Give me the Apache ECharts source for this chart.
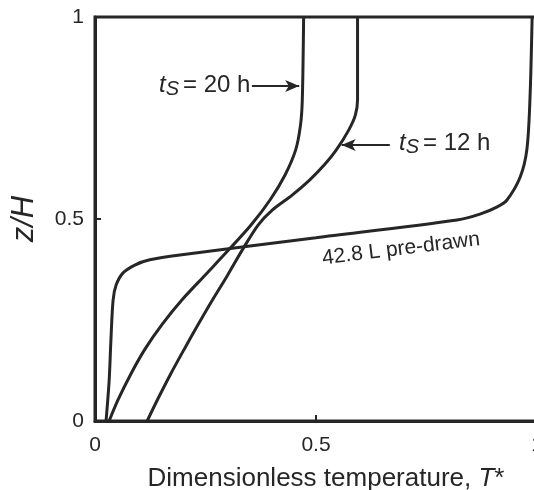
<!doctype html>
<html lang="en">
<head>
<meta charset="UTF-8">
<title>Dimensionless temperature profiles</title>
<script src="https://cdn.jsdelivr.net/npm/echarts@6/dist/echarts.min.js"></script>
<style>
  html, body { margin: 0; padding: 0; background: #fff; }
  #main { width: 534px; height: 490px; }
</style>
</head>
<body>
<div id="main"></div>
<script>
// tick labels
var xTicks = [0, 0.5, 1];
var yTicks = [0, 0.5, 1];

// 42.8 L pre-drawn profile: T* against z/H
var zPre = [0, 0.1, 0.2, 0.3, 0.337, 0.366, 0.386, 0.399, 0.411, 0.4535, 0.4975, 0.512, 0.53, 0.547, 0.604, 0.671, 0.795, 1];
var tPre = [0.025, 0.032, 0.036, 0.041, 0.048, 0.063, 0.09, 0.124, 0.192, 0.5, 0.819, 0.871, 0.91, 0.932, 0.962, 0.977, 0.984, 0.989];

// ts = 20 h
var z20 = [0, 0.052, 0.114, 0.176, 0.238, 0.300, 0.361, 0.423, 0.485, 0.547, 0.609, 0.671, 0.733, 0.795, 1];
var t20 = [0.032, 0.052, 0.080, 0.112, 0.151, 0.197, 0.249, 0.302, 0.353, 0.396, 0.430, 0.454, 0.465, 0.469, 0.472];

// ts = 12 h
var z12 = [0, 0.052, 0.114, 0.176, 0.238, 0.300, 0.361, 0.423, 0.485, 0.522, 0.559, 0.597, 0.634, 0.671, 0.720, 0.757, 0.795, 1];
var t12 = [0.118, 0.141, 0.170, 0.201, 0.233, 0.266, 0.300, 0.333, 0.369, 0.401, 0.446, 0.486, 0.519, 0.546, 0.574, 0.589, 0.594, 0.594];

function pairs(ts, zs) {
    var out = [];
    for (var i = 0; i < ts.length; i++) out.push([ts[i], zs[i]]);
    return out;
}

var ink = '#262626';
var myChart = echarts.init(document.getElementById('main'));

function curve(name, ts, zs, extra) {
    var s = {
        name: name,
        type: 'line',
        data: pairs(ts, zs),
        smooth: 0.3,
        showSymbol: false,
        lineStyle: { color: ink, width: 3 },
        z: 3
    };
    if (extra) s.markLine = extra;
    return s;
}

function arrow(from, to) {
    return {
        silent: true,
        symbol: ['none', 'arrow'],
        symbolSize: [9, 14],
        label: { show: false },
        lineStyle: { color: ink, width: 2, type: 'solid' },
        data: [[{ coord: from }, { coord: to }]]
    };
}

var tickFmt = function (v) { return xTicks.indexOf(v) >= 0 ? String(v) : ''; };

var tsRich = {
    t: { fontFamily: 'Liberation Sans', fontSize: 24, fontStyle: 'italic', fill: ink },
    s: { fontFamily: 'Liberation Sans', fontSize: 20, fontStyle: 'italic', fill: ink, padding: [8, 4, 0, 0] },
    n: { fontFamily: 'Liberation Sans', fontSize: 24, fill: ink }
};

var option = {
    animation: false,
    grid: {
        left: 95, top: 17, width: 442, height: 404,
        outerBoundsMode: 'none', containLabel: false,
        show: true, borderColor: ink, borderWidth: 3, backgroundColor: 'transparent'
    },
    xAxis: {
        type: 'value', min: 0, max: 1, interval: 0.5,
        name: 'Dimensionless temperature, {i|T}*',
        nameLocation: 'middle', nameGap: 45,
        nameTextStyle: {
            fontFamily: 'Liberation Sans', fontSize: 26, color: ink, padding: [0, 0, 0, 20],
            rich: { i: { fontFamily: 'Liberation Sans', fontSize: 26, fontStyle: 'italic', color: ink } }
        },
        axisLine: { show: true, lineStyle: { color: ink, width: 3 } },
        axisTick: { show: true, inside: true, length: 6, lineStyle: { color: ink, width: 2 } },
        axisLabel: { fontFamily: 'Liberation Sans', fontSize: 21, color: ink, margin: 14, formatter: tickFmt },
        splitLine: { show: false }
    },
    yAxis: {
        type: 'value', min: 0, max: 1, interval: 0.5,
        name: 'z/H',
        nameLocation: 'middle', nameGap: 55, nameRotate: 90,
        nameTextStyle: { fontFamily: 'Liberation Sans', fontSize: 31, fontStyle: 'italic', color: ink },
        axisLine: { show: true, lineStyle: { color: ink, width: 3 } },
        axisTick: { show: true, inside: true, length: 6, lineStyle: { color: ink, width: 2 } },
        axisLabel: { fontFamily: 'Liberation Sans', fontSize: 21, color: ink, margin: 11, formatter: tickFmt },
        splitLine: { show: false }
    },
    series: [
        curve('42.8 L pre-drawn', tPre, zPre),
        curve('ts = 20 h', t20, z20, arrow([0.355, 0.829], [0.462, 0.829])),
        curve('ts = 12 h', t12, z12, arrow([0.667, 0.683], [0.558, 0.683]))
    ],
    graphic: [
        {
            type: 'text', left: 159, top: 73,
            style: { text: '{t|t}{s|S}{n|= 20 h}', rich: tsRich }
        },
        {
            type: 'text', left: 399, top: 131,
            style: { text: '{t|t}{s|S}{n|= 12 h}', rich: tsRich }
        },
        {
            type: 'text', x: 401, y: 249, rotation: 7 * Math.PI / 180,
            style: {
                text: '42.8 L pre-drawn', fontFamily: 'Liberation Sans', fontSize: 21, fill: ink,
                align: 'center', verticalAlign: 'middle'
            }
        }
    ]
};

myChart.setOption(option);
</script>
</body>
</html>
